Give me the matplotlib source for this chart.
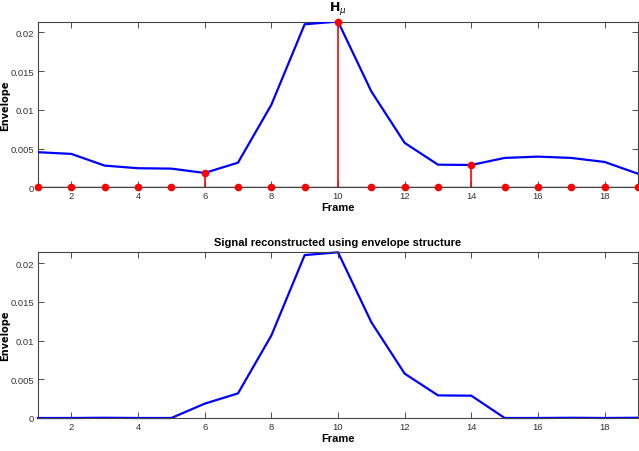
import matplotlib
matplotlib.use("Agg")
import matplotlib.pyplot as plt
import numpy as np
from matplotlib import font_manager

frames = list(range(1, 20))
envelope = [0.00453, 0.00431, 0.00280, 0.00246, 0.00241, 0.00185, 0.00318, 0.01065,
            0.02104, 0.02140, 0.01237, 0.00573, 0.00292, 0.00288, 0.00379, 0.00396,
            0.00379, 0.00327, 0.00175]
selected = [6, 10, 14]
reconstructed = [0.0, 0.0, 0.00003, 0.0, 0.0, 0.00185, 0.00318, 0.01065,
                 0.02104, 0.02140, 0.01237, 0.00573, 0.00292, 0.00288, 0.0,
                 0.0, 0.00003, 0.0, 0.00003]
xticks = [2, 4, 6, 8, 10, 12, 14, 16, 18]
yticks = [0, 0.005, 0.01, 0.015, 0.02]
ytick_labels = ["0", "0.005", "0.01", "0.015", "0.02"]

names = {f.name for f in font_manager.fontManager.ttflist}
fam = "Liberation Sans Narrow" if "Liberation Sans Narrow" in names else "Liberation Sans"
plt.rcParams['font.family'] = [fam, 'DejaVu Sans']

stem_vals = [envelope[f - 1] if f in selected else 0.0 for f in frames]

fig = plt.figure(figsize=(6.39, 4.52), dpi=100)
ax1 = fig.add_axes([38/639, 1 - 188.3/452, 600/639, (188.3 - 22.5)/452])
ax2 = fig.add_axes([38/639, 1 - 419/452, 600/639, (419 - 253.3)/452])

def style(ax):
    ax.set_xlim(1, 19)
    ax.set_ylim(0, max(envelope))
    ax.set_xticks(xticks)
    ax.set_xticklabels([str(t) for t in xticks])
    ax.set_yticks(yticks)
    ax.set_yticklabels(ytick_labels)
    ax.tick_params(direction='in', top=True, right=True, labelsize=6.8, length=4,
                   width=0.6, colors='#333333', pad=3)
    for s in ax.spines.values():
        s.set_color('#444444')
        s.set_linewidth(0.8)
    ax.set_xlabel("Frame", fontsize=8, fontweight='bold', labelpad=1)
    ax.set_ylabel("Envelope", fontsize=7, fontweight='bold', family='DejaVu Sans')
    ax.yaxis.set_label_coords(-0.047, 0.5)

ax1.plot(frames, envelope, color='#0000ff', linewidth=1.6, zorder=3)
ml, sl, bl = ax1.stem(frames, stem_vals, linefmt='r-', markerfmt='ro', basefmt='k-')
plt.setp(ml, markersize=4.5, color='#ff0000', zorder=4, clip_on=False)
plt.setp(sl, linewidth=1.2, color='#ff0000', zorder=2)
plt.setp(bl, linewidth=1.0, color='#222222', zorder=2)
style(ax1)
ax1.set_title(r"$\mathbf{H}_{\mu}$", fontsize=9, fontweight='bold', pad=8)

ax2.plot(frames, reconstructed, color='#0000ff', linewidth=1.6, clip_on=False)
style(ax2)
ax2.set_title("Signal reconstructed using envelope structure", fontsize=8,
              fontweight='bold', pad=5)

fig.savefig("out.png", dpi=100)
